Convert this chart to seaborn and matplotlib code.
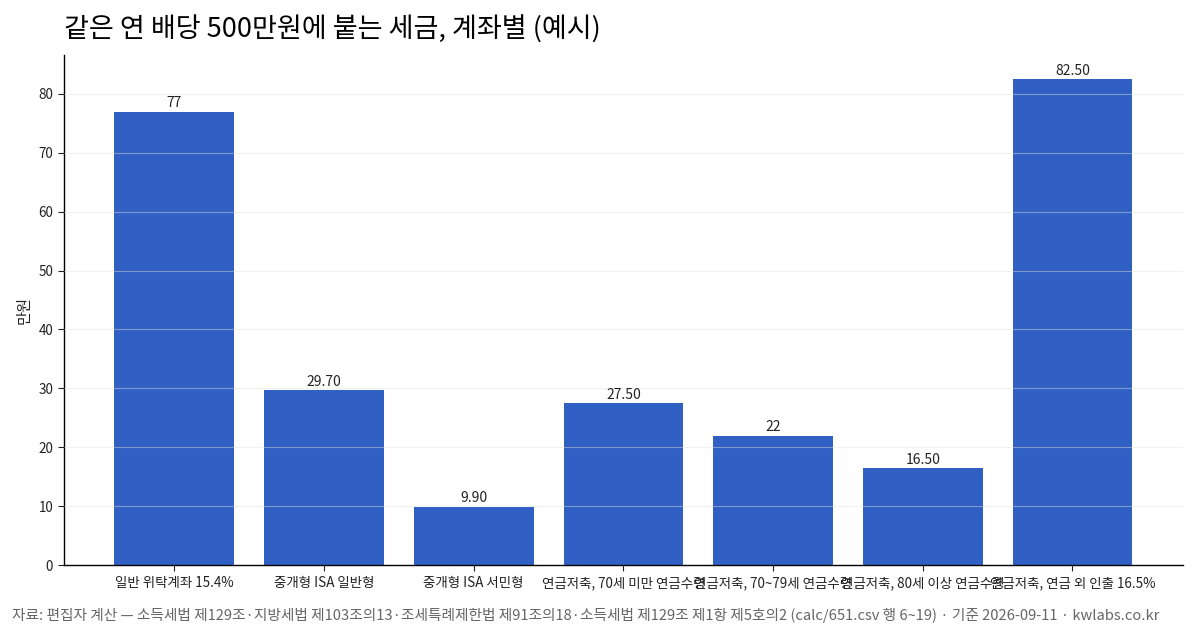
import matplotlib
matplotlib.use("Agg")
import matplotlib.pyplot as plt
import seaborn as sns
import pandas as pd

# data
accounts = [
    "일반 위탁계좌 15.4%",
    "중개형 ISA 일반형",
    "중개형 ISA 서민형",
    "연금저축, 70세 미만 연금수령",
    "연금저축, 70~79세 연금수령",
    "연금저축, 80세 이상 연금수령",
    "연금저축, 연금 외 인출 16.5%",
]
tax = [77, 29.7, 9.9, 27.5, 22, 16.5, 82.5]

title = "같은 연 배당 500만원에 붙는 세금, 계좌별 (예시)"
ylabel = "만원"
source = ("자료: 편집자 계산 — 소득세법 제129조·지방세법 제103조의13·조세특례제한법 제91조의18·"
          "소득세법 제129조 제1항 제5호의2 (calc/651.csv 행 6~19) · 기준 2026-09-11 · kwlabs.co.kr")

sns.set_theme(style="white")
plt.rcParams["font.family"] = ["Noto Sans CJK KR", "DejaVu Sans"]

df = pd.DataFrame({"account": accounts, "tax": tax})

fig, ax = plt.subplots(figsize=(12, 6.3), dpi=100)
fig.subplots_adjust(left=0.053, right=0.986, top=0.913, bottom=0.103)

sns.barplot(data=df, x="account", y="tax", color="#3060c4", saturation=1, width=0.8,
            linewidth=0, ax=ax, zorder=2)

ax.set_xlim(-0.74, len(accounts) - 0.26)
ax.set_ylim(0, max(tax) * 1.05)
ax.yaxis.grid(True, color="#e0e0e0", linewidth=0.8, zorder=3)
ax.set_axisbelow(False)
for line in ax.get_ygridlines():
    line.set_alpha(0.45)

labels = [f"{v:g}" if float(v).is_integer() else f"{v:.2f}" for v in tax]
ax.bar_label(ax.containers[0], labels=labels, padding=1, fontsize=10, color="#222222")

ax.set_xlabel("")
ax.set_ylabel(ylabel, fontsize=11)
ax.tick_params(axis="both", labelsize=9.7, colors="#222222", length=4, width=0.8, left=True, bottom=True)
ax.tick_params(axis="x", pad=4)
sns.despine(ax=ax)
for s in ["left", "bottom"]:
    ax.spines[s].set_color("black")
    ax.spines[s].set_linewidth(1.0)

ax.set_title(title, loc="left", fontsize=19.5, pad=12, color="black")
fig.text(0.01, 0.011, source, fontsize=10.6, color="#666666", ha="left", va="bottom")

fig.savefig("out.png", dpi=100)
plt.close(fig)
